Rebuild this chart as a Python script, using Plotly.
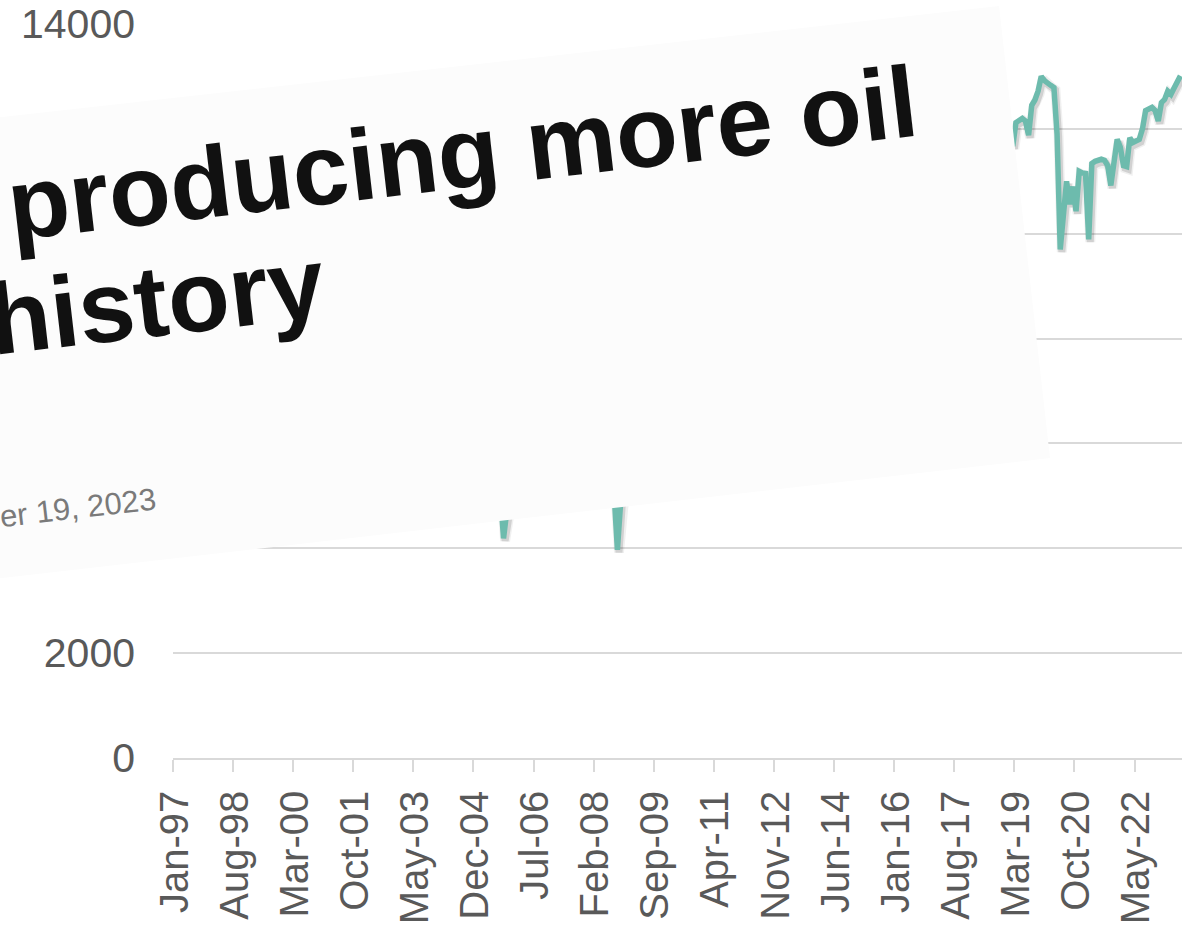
import plotly.graph_objects as go

# U.S. crude oil field production, thousand barrels per day, monthly from Jan 1997
start_month = "1997-01"
production_kbd = [
    6474, 6496, 6508, 6474, 6447, 6407, 6372, 6406, 6426, 6470, 6456, 6462,   # 1997
    6411, 6419, 6399, 6356, 6311, 6255, 6206, 6124, 5923, 6167, 6207, 6156,   # 1998
    6035, 5985, 5930, 5865, 5852, 5801, 5839, 5830, 5794, 5922, 5951, 5939,   # 1999
    5855, 5867, 5880, 5856, 5823, 5810, 5781, 5789, 5755, 5801, 5821, 5729,   # 2000
    5790, 5853, 5852, 5806, 5829, 5795, 5803, 5832, 5691, 5831, 5799, 5812,   # 2001
    5848, 5851, 5835, 5870, 5856, 5798, 5773, 5692, 5366, 5452, 5802, 5788,   # 2002
    5655, 5699, 5722, 5716, 5701, 5640, 5551, 5621, 5577, 5624, 5617, 5669,   # 2003
    5592, 5611, 5600, 5546, 5530, 5472, 5527, 5515, 4866, 5140, 5372, 5465,   # 2004
    5403, 5490, 5507, 5496, 5476, 5329, 5110, 5035, 4190, 4700, 4950, 5090,   # 2005
    5081, 5100, 5163, 5089, 5133, 5132, 5108, 5127, 5178, 5125, 5150, 5217,   # 2006
    5131, 5153, 5160, 5170, 5160, 5089, 4990, 4952, 5050, 5017, 5078, 5090,   # 2007
    5142, 5135, 5158, 5143, 5136, 5164, 5133, 5000, 3970, 4850, 5220, 5320,   # 2008
    5260, 5258, 5292, 5362, 5199, 5221, 5323, 5285, 5502, 5478, 5420, 5454,   # 2009
    5390, 5492, 5551, 5480, 5560, 5422, 5342, 5402, 5558, 5541, 5518, 5517,   # 2010
    5500, 5470, 5659, 5620, 5670, 5580, 5564, 5658, 5620, 5880, 5920, 5930,   # 2011
    6150, 6250, 6290, 6360, 6370, 6340, 6400, 6270, 6570, 6970, 7000, 7070,   # 2012
    7070, 7130, 7180, 7330, 7320, 7290, 7500, 7530, 7780, 7720, 7900, 7910,   # 2013
    8000, 8140, 8240, 8530, 8630, 8690, 8790, 8890, 8940, 9150, 9190, 9430,   # 2014
    9360, 9470, 9600, 9670, 9600, 9420, 9380, 9440, 9470, 9400, 9320, 9260,   # 2015
    9190, 9060, 9090, 8870, 8830, 8670, 8650, 8680, 8550, 8820, 8880, 8780,   # 2016
    8870, 9110, 9170, 9110, 9190, 9110, 9240, 9250, 9510, 9660, 10070, 9980,  # 2017
    10020, 10290, 10470, 10500, 10440, 10650, 10890, 11350, 11480, 11560, 11910, 11960,  # 2018
    11850, 11670, 12120, 12160, 12200, 12150, 11880, 12450, 12550, 12720, 13000, 12920,  # 2019
    12860, 12830, 12790, 11900, 9700, 10450, 11000, 10560, 10900, 10430, 11190, 11160,   # 2020
    11150, 9890, 11340, 11380, 11400, 11420, 11400, 11300, 10920, 11450, 11800, 11650,   # 2021
    11300, 11280, 11830, 11740, 11760, 11800, 12000, 12350, 12380, 12410, 12350, 12150,  # 2022
    12500, 12560, 12720, 12660, 12780, 12890, 13010,                                     # 2023
]

x_tick_labels = ["Jan-97", "Aug-98", "Mar-00", "Oct-01", "May-03", "Dec-04", "Jul-06",
                 "Feb-08", "Sep-09", "Apr-11", "Nov-12", "Jun-14", "Jan-16", "Aug-17",
                 "Mar-19", "Oct-20", "May-22"]
label_every = 19
y_ticks = [0, 2000, 4000, 6000, 8000, 10000, 12000, 14000]
y_tick_labels = ["0", "2000", "4000", "6000", "8000", "10000", "12000", "14000"]

headline_lines = ["producing more oil", "history"]
dateline = "October 19, 2023"

# ---- layout geometry -------------------------------------------------------
W, H = 1190, 928
ML, MR, MT, MB = 173, 8, 24, 170
PW, PH = W - ML - MR, H - MT - MB


def px(xpix, ypix):
    """pixel position on the page -> paper coordinates"""
    return (xpix - ML) / PW, (H - MB - ypix) / PH


n = len(production_kbd)
months = list(range(n))
x_range = [-0.5, n - 0.5]
y_range = [0, 14000]

LINE = "#6dbbad"
GRID = "#d9d9d9"
TXT = "#595959"
FONT = "Liberation Sans, Arial, sans-serif"

fig = go.Figure()

# soft drop shadow under the series (drawn on a slightly offset hidden axis pair)
for w, a in [(10, 0.06), (7, 0.13)]:
    fig.add_trace(go.Scatter(x=months, y=production_kbd, mode="lines",
                             line=dict(color=f"rgba(0,0,0,{a})", width=w),
                             xaxis="x", yaxis="y", hoverinfo="skip"))

fig.add_trace(go.Scatter(x=months, y=production_kbd, mode="lines",
                         line=dict(color=LINE, width=5.5),
                         xaxis="x2", yaxis="y2", hoverinfo="skip"))

shift_x = 0.5     # months
shift_y = 50      # kb/d
fig.update_layout(
    width=W, height=H,
    margin=dict(l=ML, r=MR, t=MT, b=MB, autoexpand=False),
    paper_bgcolor="white", plot_bgcolor="white",
    showlegend=False,
    xaxis=dict(range=[x_range[0] - shift_x, x_range[1] - shift_x], visible=False),
    yaxis=dict(range=[y_range[0] + shift_y, y_range[1] + shift_y], visible=False),
    xaxis2=dict(
        overlaying="x", side="bottom", range=x_range,
        tickmode="array",
        tickvals=list(range(0, n, label_every))[:len(x_tick_labels)],
        ticktext=x_tick_labels,
        tickangle=-90, ticks="", ticklabelstandoff=15,
        tickfont=dict(family=FONT, size=40, color=TXT),
        showgrid=False, zeroline=False,
        showline=True, linecolor=GRID, linewidth=1.5,
        minor=dict(tickmode="array",
                   tickvals=[v - 0.5 for v in range(0, n, label_every)],
                   ticks="outside", ticklen=12, tickcolor=GRID, tickwidth=1.5),
    ),
    yaxis2=dict(
        overlaying="y", side="left", range=y_range,
        tickmode="array", tickvals=y_ticks, ticktext=y_tick_labels,
        ticks="", ticklabelstandoff=37,
        tickfont=dict(family=FONT, size=41, color=TXT),
        showgrid=True, gridcolor=GRID, gridwidth=1.5,
        zeroline=False, showline=False,
    ),
)

# tilted news-page clipping laid over the chart
corners = [(-300, 150.7), (999, 6), (1050, 458), (-300, 612.6)]
path = "M " + " L ".join(f"{px(a, b)[0]:.5f},{px(a, b)[1]:.5f}" for a, b in corners) + " Z"
fig.add_shape(type="path", path=path, xref="paper", yref="paper",
              fillcolor="#fcfcfc", line=dict(width=0), layer="above")

angle = -6.6
for text, (cx, cy), size, color, bold in [
    (headline_lines[0], (462, 153), 101, "#111111", True),
    (headline_lines[1], (156, 301), 101, "#111111", True),
    (dateline, (37, 512), 31, "#7a7a7a", False),
]:
    xp, yp = px(cx, cy)
    fig.add_annotation(x=xp, y=yp, xref="paper", yref="paper",
                       text=f"<b>{text}</b>" if bold else text,
                       showarrow=False, textangle=angle,
                       xanchor="center", yanchor="middle",
                       font=dict(family=FONT, size=size, color=color))

fig.write_html("out.html")
